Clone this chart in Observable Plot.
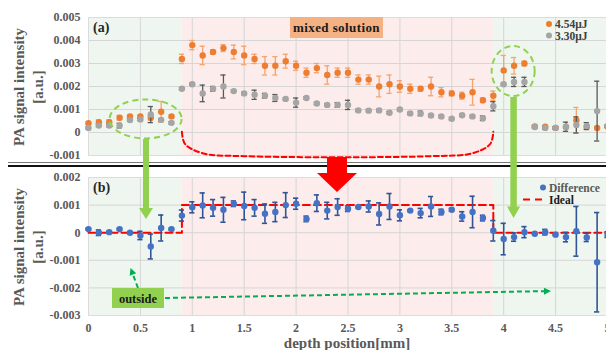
<!DOCTYPE html>
<html><head><meta charset="utf-8">
<script src="https://cdn.jsdelivr.net/npm/d3@7"></script>
<script src="https://cdn.jsdelivr.net/npm/@observablehq/plot@0.6"></script>
<style>
body{margin:0;background:#fff;}
#wrap{position:relative;width:606px;height:350px;overflow:hidden;font-family:"Liberation Serif","DejaVu Serif",serif;}
#wrap svg{position:absolute;left:0;}
</style></head><body><div id="wrap"></div><script>
// ---------- data ----------
const depth = [0,0.1,0.2,0.3,0.4,0.5,0.6,0.7,0.8,0.9,1.0,1.1,1.2,1.3,1.4,1.5,1.6,1.7,1.8,1.9,2.0,2.1,2.2,2.3,2.4,2.5,2.6,2.7,2.8,2.9,3.0,3.1,3.2,3.3,3.4,3.5,3.6,3.7,3.8,3.9,4.0,4.1,4.2,4.3,4.4,4.5,4.6,4.7,4.8,4.9,5.0];
const pa454 = [0.0004,0.00045,0.00045,0.00064,0.0007,0.0007,0.00064,0.0009,0.0007,0.0032,0.0038,0.00335,0.0035,0.00367,0.0035,0.00335,0.0032,0.0029,0.0029,0.0031,0.0029,0.0026,0.0028,0.0025,0.0026,0.0026,0.0023,0.0023,0.0020,0.0021,0.0020,0.0019,0.0019,0.0020,0.00175,0.0017,0.0016,0.00175,0.0014,0.0016,0.0027,0.0029,0.0030,0.00026,0.00025,0.0002,0.00024,0.00053,0.00024,0.0002,0.00025];
const err454 = [0.00005,0.0001,0.0001,0.0001,0.00005,0.00005,0.0001,0.00045,0.00005,0.0002,0.0002,0.0004,0.0001,0.00015,0.0003,0.0004,0.0002,0.0004,0.0004,0.0003,0.0002,0.0002,0.0002,0.0004,0.0002,0.0002,0.0002,0.0002,0.00045,0.0004,0.00025,0.0002,0.0001,0.0004,0.0002,0.0001,0.00015,0.00056,0.0001,0.0002,0.00065,0.00036,0.0001,0.00005,0.00005,0.00005,0.00005,0.00056,0.00005,0.00005,0.00005];
const pa330 = [0.0002,0.0003,0.0003,0.0003,0.00054,0.00057,0.00078,0.00055,0.00042,0.0019,0.0021,0.0017,0.0019,0.0020,0.0018,0.0017,0.00164,0.0016,0.0015,0.00146,0.0013,0.0015,0.00126,0.0012,0.0012,0.0012,0.00096,0.00095,0.00096,0.00086,0.0010,0.00083,0.00083,0.00074,0.0007,0.0006,0.00075,0.0007,0.00062,0.00114,0.0021,0.0022,0.0022,0.00024,0.0002,0.0002,0.00025,0.00033,0.00028,0.00093,0.00028];
const err330 = [0.00005,0.00005,0.00005,0.0001,0.00005,0.00005,0.00035,0.00005,0.00005,0.00005,0.00005,0.00036,0.0001,0.0005,0.00005,0.00005,0.0002,0.0001,0.00015,0.00005,0.0002,0.00005,0.00005,0.00005,0.0001,0.0002,0.00005,0.00005,0.00005,0.00005,0.00005,0.00005,0.0001,0.00005,0.00005,0.00005,0.00005,0.00005,0.0001,0.0002,0.00005,0.0002,0.0002,0.00005,0.00005,0.00005,0.0002,0.00035,0.00015,0.0013,0.00005];
const diff = [0.00013,0.0,0.00002,0.00013,0.0,-0.0001,-0.0005,0.00017,0.00013,0.00062,0.00092,0.00099,0.0009,0.00083,0.00105,0.00097,0.0009,0.00069,0.00075,0.001,0.00105,0.0005,0.00107,0.0008,0.00093,0.00087,0.00093,0.00095,0.00068,0.00095,0.00063,0.0008,0.00071,0.00095,0.00075,0.00083,0.00059,0.00075,0.00053,0.00007,-0.00023,-0.00016,0.00002,-0.00004,0.00002,-0.00007,-0.00016,0.00005,-0.00017,-0.00107,-0.00007];
const diffErr = [0.00003,0.0001,0.00003,0.00003,0.00003,0.00015,0.00045,0.00047,0.00003,0.0002,0.0002,0.00045,0.0003,0.00045,0.0001,0.0005,0.0003,0.00035,0.00035,0.00045,0.0002,0.0001,0.0003,0.0003,0.0003,0.0001,0.00003,0.0002,0.0004,0.00047,0.0002,0.00003,0.00017,0.00036,0.0001,0.00005,0.00017,0.00057,0.0001,0.00037,0.00057,0.00015,0.0002,0.00003,0.0001,0.00003,0.00017,0.0009,0.00015,0.0018,0.0001];
const idealX = [0,0.9,0.9,3.9,3.9,5];
const idealY = [0,0,0.001,0.001,0,0];
const bracketX = [0.9,0.93,1.1,1.5,3.3,3.7,3.87,3.9];
const bracketY = [0.00003,-0.0005,-0.0009,-0.00103,-0.00103,-0.0009,-0.0005,0.00003];
const greenBands = [{x1:0,x2:0.9},{x1:3.9,x2:5}];
const pinkBands = [{x1:0.9,x2:3.9}];
const xTicks = [0,0.5,1,1.5,2,2.5,3,3.5,4,4.5,5];
const yTicksTop = [-0.001,0,0.001,0.002,0.003,0.004,0.005];
const yTicksBot = [-0.003,-0.002,-0.001,0,0.001,0.002];
const labels = {a:"(a)", b:"(b)", mixed:"mixed solution", outside:"outside", s1:"4.54μJ", s2:"3.30μJ", diff:"Difference", ideal:"Ideal", xTitle:"depth position[mm]", yTitle1:"PA signal intensity", yTitle2:"[a.u.]"};

// ---------- tables ----------
const mk = (v, e) => depth.map((x,i)=>({x, y:v[i], e:e[i]}));
const s454 = mk(pa454, err454), s330 = mk(pa330, err330), sdiff = mk(diff, diffErr);
const ideal = idealX.map((x,i)=>({x, y:idealY[i]}));
const bracket = bracketX.map((x,i)=>({x, y:bracketY[i]}));
const fmt = d => d === 0 ? "0" : d.toFixed(3);
const FONT = '"Liberation Serif","DejaVu Serif",serif';
const cap = 0.025;
function errMarks(data, stroke, w) {
  return [
    Plot.ruleX(data, {x:"x", y1:d=>d.y-d.e, y2:d=>d.y+d.e, stroke, strokeWidth:w}),
    Plot.ruleY(data, {y:d=>d.y+d.e, x1:d=>d.x-cap, x2:d=>d.x+cap, stroke, strokeWidth:w}),
    Plot.ruleY(data, {y:d=>d.y-d.e, x1:d=>d.x-cap, x2:d=>d.x+cap, stroke, strokeWidth:w})
  ];
}
function base(yTicks) {
  return [
    Plot.rect(greenBands, {x1:"x1", x2:"x2", fill:"#eef6ef"}),
    Plot.rect(pinkBands, {x1:"x1", x2:"x2", fill:"#fcecec"}),
    Plot.gridX(xTicks, {stroke:"#d6d6d6", strokeOpacity:1}),
    Plot.gridY(yTicks, {stroke:"#d6d6d6", strokeOpacity:1}),
    Plot.frame({stroke:"#dcdcdc"}),
    Plot.axisY(yTicks, {tickFormat:fmt, tickSize:0, tickPadding:8, label:null, fill:"#595959", fontWeight:"bold", fontSize:12})
  ];
}
const xRange = [88, 607];
const topPlot = Plot.plot({
  width:606, height:165, marginLeft:88, marginRight:0, marginTop:17, marginBottom:10,
  style:{fontFamily:FONT, fontSize:"12px", background:"transparent", overflow:"visible"},
  x:{domain:[0,5], range:xRange, axis:null},
  y:{domain:[-0.001,0.005], range:[155,17], axis:null},
  marks:[
    ...base(yTicksTop),
    Plot.line(bracket, {x:"x", y:"y", curve:"catmull-rom", stroke:"#ff0000", strokeWidth:2, strokeDasharray:"5,3"}),
    ...errMarks(s454, "#f4a46c", 1.3),
    Plot.dot(s454, {x:"x", y:"y", r:3.2, fill:"#ed7d31"}),
    ...errMarks(s330, "#595959", 1.3),
    Plot.dot(s330, {x:"x", y:"y", r:3.2, fill:"#a5a5a5"})
  ]
});
const botPlot = Plot.plot({
  width:606, height:185, marginLeft:88, marginRight:0, marginTop:12, marginBottom:35,
  style:{fontFamily:FONT, fontSize:"12px", background:"transparent", overflow:"visible"},
  x:{domain:[0,5], range:xRange},
  y:{domain:[-0.003,0.002], range:[150,12], axis:null},
  marks:[
    ...base(yTicksBot),
    Plot.axisX(xTicks, {tickFormat:d=>String(d), tickSize:0, tickPadding:8, label:null, fill:"#595959", fontWeight:"bold", fontSize:12}),
    Plot.line(ideal, {x:"x", y:"y", stroke:"#ff0000", strokeWidth:2, strokeDasharray:"7,4"}),
    ...errMarks(sdiff, "#2f5597", 1.6),
    Plot.dot(sdiff, {x:"x", y:"y", r:3.2, fill:"#4472c4"})
  ]
});
const wrap = document.getElementById("wrap");
topPlot.style.top = "0px";
botPlot.style.top = "165px";
wrap.appendChild(topPlot);
wrap.appendChild(botPlot);

// ---------- overlay annotations ----------
const X = topPlot.scale("x").apply;
const YT = topPlot.scale("y").apply;
const ov = d3.select(wrap).append("svg").attr("width",606).attr("height",350).style("top","0px").style("pointer-events","none")
  .style("font-family", FONT);

// separator
ov.append("line").attr("x1",8).attr("x2",606).attr("y1",162.5).attr("y2",162.5).attr("stroke","#777").attr("stroke-width",1);
ov.append("line").attr("x1",8).attr("x2",606).attr("y1",166).attr("y2",166).attr("stroke","#111").attr("stroke-width",2.2);

// y titles
function yTitle(cy) {
  ov.append("text").attr("transform",`translate(24,${cy}) rotate(-90)`).attr("text-anchor","middle")
    .attr("font-size",15).attr("font-weight","bold").attr("fill","#595959").text(labels.yTitle1);
  ov.append("text").attr("transform",`translate(43,${cy}) rotate(-90)`).attr("text-anchor","middle")
    .attr("font-size",15).attr("font-weight","bold").attr("fill","#595959").text(labels.yTitle2);
}
yTitle(87); yTitle(247);
ov.append("text").attr("x",347).attr("y",348).attr("text-anchor","middle").attr("font-size",15)
  .attr("font-weight","bold").attr("fill","#595959").text(labels.xTitle);

// panel tags
ov.append("text").attr("x",93).attr("y",31.5).attr("font-size",14).attr("font-weight","bold").attr("fill","#262626").text(labels.a);
ov.append("text").attr("x",93).attr("y",191.5).attr("font-size",14).attr("font-weight","bold").attr("fill","#262626").text(labels.b);

// mixed solution box
ov.append("rect").attr("x",290).attr("y",17).attr("width",93).attr("height",21).attr("fill","#f4b183");
ov.append("text").attr("x",336.5).attr("y",32).attr("text-anchor","middle").attr("font-size",13)
  .attr("font-weight","bold").attr("fill","#1a1a1a").attr("letter-spacing",0.4).text(labels.mixed);

// top legend
ov.append("circle").attr("cx",549).attr("cy",24).attr("r",3).attr("fill","#ed7d31");
ov.append("text").attr("x",555).attr("y",28).attr("font-size",11.5).attr("font-weight","bold").attr("fill","#404040").text(labels.s1);
ov.append("circle").attr("cx",549).attr("cy",35.5).attr("r",3).attr("fill","#a5a5a5");
ov.append("text").attr("x",555).attr("y",40).attr("font-size",11.5).attr("font-weight","bold").attr("fill","#404040").text(labels.s2);

// bottom legend
ov.append("circle").attr("cx",543).attr("cy",187.5).attr("r",3).attr("fill","#4472c4");
ov.append("text").attr("x",549).attr("y",191.5).attr("font-size",11.5).attr("font-weight","bold").attr("fill","#595959").text(labels.diff);
ov.append("line").attr("x1",523).attr("x2",542).attr("y1",199.5).attr("y2",199.5).attr("stroke","#ff0000").attr("stroke-width",2).attr("stroke-dasharray","7,5");
ov.append("text").attr("x",549).attr("y",204).attr("font-size",11.5).attr("font-weight","bold").attr("fill","#1a1a1a").text(labels.ideal);

// ellipses
ov.append("ellipse").attr("cx",X(0.555)).attr("cy",YT(0.00057)).attr("rx",36).attr("ry",19.5)
  .attr("fill","none").attr("stroke","#92d050").attr("stroke-width",2).attr("stroke-dasharray","6,4");
ov.append("ellipse").attr("cx",X(4.096)).attr("cy",YT(0.00265)).attr("rx",21.5).attr("ry",25)
  .attr("fill","none").attr("stroke","#92d050").attr("stroke-width",2).attr("stroke-dasharray","6,4");

// block arrows
function blockArrow(cx, y0, y1, hy, sw, hw, color) {
  ov.append("path").attr("fill",color)
    .attr("d",`M${cx-sw/2},${y0}L${cx+sw/2},${y0}L${cx+sw/2},${hy}L${cx+hw},${hy}L${cx},${y1}L${cx-hw},${hy}L${cx-sw/2},${hy}Z`);
}
blockArrow(146, 139, 219, 208, 6, 7, "#92d050");
blockArrow(X(4.1), 97, 218, 206.5, 6.5, 6.5, "#92d050");
blockArrow(337, 157, 192, 173, 20, 20, "#ff0000");

// outside box & dashed arrows
function dashArrow(x1, y1, x2, y2) {
  const a = Math.atan2(y2-y1, x2-x1), L = 7, W = 3.5;
  const bx = x2 - L*Math.cos(a), by = y2 - L*Math.sin(a);
  ov.append("line").attr("x1",x1).attr("y1",y1).attr("x2",bx).attr("y2",by).attr("stroke","#00b050").attr("stroke-width",2).attr("stroke-dasharray","5,3");
  ov.append("path").attr("fill","#00b050")
    .attr("d",`M${x2},${y2}L${bx - W*Math.sin(a)},${by + W*Math.cos(a)}L${bx + W*Math.sin(a)},${by - W*Math.cos(a)}Z`);
}
dashArrow(138, 288, 130.5, 268);
dashArrow(165, 298, 551, 291);
ov.append("rect").attr("x",112).attr("y",288).attr("width",52).attr("height",20).attr("fill","#92d050");
ov.append("text").attr("x",138).attr("y",302.5).attr("text-anchor","middle").attr("font-size",12.5)
  .attr("font-weight","bold").attr("fill","#1a1a1a").text(labels.outside);
</script></body></html>
